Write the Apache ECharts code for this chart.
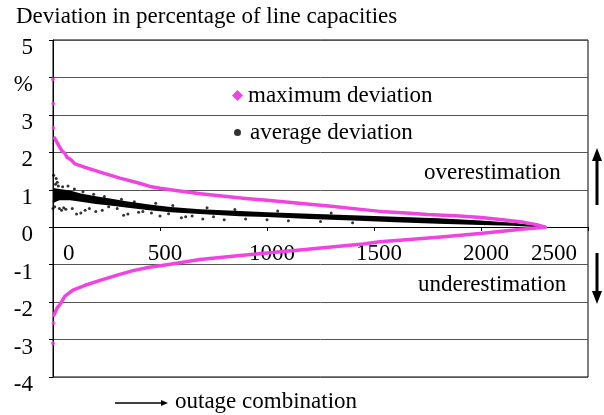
<!DOCTYPE html>
<html><head><meta charset="utf-8">
<script src="https://cdn.jsdelivr.net/npm/echarts@6.0.0/dist/echarts.min.js"></script>
<style>html,body{margin:0;padding:0;background:#fff}#c{width:604px;height:415px}</style>
</head><body><div id="c"></div>
<script>
const chartTitle = 'Deviation in percentage of line capacities';
const xAxisCaption = 'outage combination';
const upperNote = 'overestimation';
const lowerNote = 'underestimation';
const seriesNames = ['maximum deviation', 'average deviation'];
const xTickValues = [0, 500, 1000, 1500, 2000, 2500];
const yTickLabels = {5: '5', 4: '%', 3: '3', 2: '2', 1: '1', 0: '0', '-1': '-1', '-2': '-2', '-3': '-3', '-4': '-4'};

// maximum deviation (upper and lower envelope)
const maxDevUpper = [[8,2.38],[20,2.25],[40,2.05],[56,1.97],[65,1.87],[84,1.8],[103,1.69],[150,1.6],[220,1.47],[313,1.31],[400,1.18],[453,1.09],[500,1.04],[600,0.96],[700,0.89],[800,0.83],[900,0.77],[1000,0.72],[1150,0.64],[1300,0.56],[1450,0.47],[1550,0.41],[1650,0.38],[1750,0.34],[1900,0.3],[2000,0.26],[2100,0.2],[2200,0.13],[2260,0.07],[2300,0.0]];
const maxDevLower = [[4,-2.35],[10,-2.3],[20,-2.15],[33,-2.06],[56,-1.84],[93,-1.68],[150,-1.55],[220,-1.42],[300,-1.28],[374,-1.16],[450,-1.07],[533,-1.0],[687,-0.86],[850,-0.77],[1000,-0.69],[1154,-0.61],[1300,-0.53],[1450,-0.45],[1528,-0.39],[1621,-0.35],[1800,-0.27],[1995,-0.17],[2100,-0.11],[2200,-0.05],[2300,0]];
const maxDevIsolated = [[0,3.95],[1,3.3],[2,2.65],[0,-3.1],[2,-2.56]];

// average deviation: dense band (lower / upper edge) plus scattered points
const avgBandLow = [[0,0.65],[30,0.72],[80,0.72],[130,0.68],[200,0.62],[266,0.58],[350,0.52],[450,0.45],[550,0.4],[687,0.35],[874,0.29],[1000,0.27],[1200,0.22],[1400,0.18],[1600,0.13],[1800,0.09],[2000,0.06],[2150,0.04],[2270,0.0]];
const avgBandHigh = [[0,1.05],[30,1.02],[80,0.98],[130,0.9],[200,0.83],[266,0.77],[350,0.69],[450,0.61],[550,0.54],[687,0.48],[874,0.43],[1000,0.4],[1200,0.36],[1400,0.32],[1600,0.28],[1800,0.24],[2000,0.18],[2150,0.12],[2270,0.04]];
const avgPoints = [[0,0.5],[3,1.39],[5,0.7],[8,0.55],[12,1.15],[15,1.3],[20,1.2],[25,1.1],[30,0.5],[40,0.45],[45,1.08],[50,0.52],[60,0.48],[70,1.1],[90,0.5],[100,1.02],[110,0.35],[130,0.38],[140,0.95],[150,0.45],[170,0.5],[190,0.88],[200,0.42],[230,0.45],[240,0.82],[260,0.55],[300,0.5],[320,0.75],[330,0.32],[350,0.35],[380,0.68],[400,0.4],[420,0.42],[460,0.38],[480,0.64],[500,0.3],[540,0.36],[560,0.58],[600,0.25],[620,0.28],[650,0.3],[700,0.22],[720,0.52],[750,0.28],[800,0.2],[850,0.47],[900,0.22],[1000,0.2],[1050,0.43],[1100,0.17],[1250,0.15],[1300,0.38],[1400,0.12]];

const pink = '#f043e0';
const serif = 'Liberation Serif';
const FS = 23;

const chart = echarts.init(document.getElementById('c'), null, {renderer: 'canvas'});

chart.setOption({
  animation: false,
  backgroundColor: '#fff',
  textStyle: {fontFamily: serif},
  title: {text: chartTitle, left: 16, top: 5, padding: 0,
    textStyle: {fontFamily: serif, fontSize: FS, fontWeight: 'normal', color: '#000'}},
  grid: {left: 53, right: 16, top: 40, bottom: 38, show: true, borderColor: '#000', borderWidth: 1, containLabel: false, outerBoundsMode: 'none'},
  legend: [
    {data: [{name: seriesNames[0], icon: 'diamond'}], left: 232, top: 84, padding: 0, z: 20,
      itemWidth: 11, itemHeight: 11, itemStyle: {color: pink},
      textStyle: {fontFamily: serif, fontSize: FS, color: '#000'}},
    {data: [{name: seriesNames[1], icon: 'circle'}], left: 234, top: 121, padding: 0, z: 20,
      itemWidth: 7, itemHeight: 7, itemStyle: {color: '#000'},
      textStyle: {fontFamily: serif, fontSize: FS, color: '#000', padding: [0,0,0,4]}}
  ],
  xAxis: {
    type: 'value', min: 0, max: 2500, interval: 500,
    position: 'bottom', offset: -150,
    axisLine: {onZero: false, lineStyle: {color: '#000', width: 1}},
    axisTick: {show: true, length: 4, lineStyle: {color: '#000'}},
    splitLine: {show: false},
    axisLabel: {
      margin: 15, color: '#000', fontFamily: serif, fontSize: FS,
      alignMinLabel: 'left', alignMaxLabel: 'right',
      formatter: v => v === 0 ? '{l|0}' : (v === 2500 ? '{r|2500}' : '{m|' + v + '}'),
      rich: {
        l: {fontFamily: serif, fontSize: FS, color: '#000', padding: [0,0,0,10]},
        r: {fontFamily: serif, fontSize: FS, color: '#000', padding: [0,11,0,0]},
        m: {fontFamily: serif, fontSize: FS, color: '#000', padding: [0,0,0,10]}
      }
    }
  },
  yAxis: {
    type: 'value', min: -4, max: 5, interval: 1,
    axisLine: {show: true, onZero: false, lineStyle: {color: '#000', width: 1}},
    axisTick: {show: true, length: 4, lineStyle: {color: '#000'}},
    splitLine: {show: true, lineStyle: {color: '#555', width: 1}},
    axisLabel: {margin: 20, color: '#000', fontFamily: serif, fontSize: FS,
      verticalAlign: 'top', lineHeight: 16,
      formatter: v => yTickLabels[v]}
  },
  series: [
    {name: 'averageBand', type: 'custom', data: [[0, 0]], silent: true, z: 2,
      renderItem: function (params, api) {
        const pts = avgBandLow.map(p => api.coord(p)).concat(avgBandHigh.slice().reverse().map(p => api.coord(p)));
        return {type: 'polygon', shape: {points: pts}, style: {fill: '#000'}};
      }},
    {name: seriesNames[1], type: 'scatter', data: avgPoints, symbol: 'circle', symbolSize: 3, z: 3,
      itemStyle: {color: '#000'}},
    {name: seriesNames[0], type: 'line', data: maxDevUpper, symbol: 'none', z: 5,
      lineStyle: {color: pink, width: 3.5, cap: 'round', join: 'round'}, itemStyle: {color: pink}},
    {name: seriesNames[0], type: 'line', data: maxDevLower, symbol: 'none', z: 5,
      lineStyle: {color: pink, width: 3.5, cap: 'round', join: 'round'}, itemStyle: {color: pink}},
    {name: seriesNames[0], type: 'scatter', data: maxDevIsolated, symbol: 'circle', symbolSize: 4, z: 5,
      itemStyle: {color: pink}}
  ],
  graphic: [
    {type: 'text', left: 424, top: 161, z: 20, style: {text: upperNote, font: FS + 'px "Liberation Serif"', fill: '#000'}},
    {type: 'text', left: 418, top: 273, z: 20, style: {text: lowerNote, font: FS + 'px "Liberation Serif"', fill: '#000'}},
    {type: 'rect', shape: {x: 595.5, y: 159, width: 3, height: 46}, style: {fill: '#000'}},
    {type: 'polygon', shape: {points: [[597,148],[602,161],[592,161]]}, style: {fill: '#000'}},
    {type: 'rect', shape: {x: 595.5, y: 253, width: 3, height: 39}, style: {fill: '#000'}},
    {type: 'polygon', shape: {points: [[597,304],[602,291],[592,291]]}, style: {fill: '#000'}},
    {type: 'line', shape: {x1: 115, y1: 403, x2: 163, y2: 403}, style: {stroke: '#000', lineWidth: 1.5}},
    {type: 'polygon', shape: {points: [[168,403],[161,400],[161,406]]}, style: {fill: '#000'}},
    {type: 'text', left: 175, top: 390, style: {text: xAxisCaption, font: FS + 'px "Liberation Serif"', fill: '#000'}}
  ]
});
</script></body></html>
